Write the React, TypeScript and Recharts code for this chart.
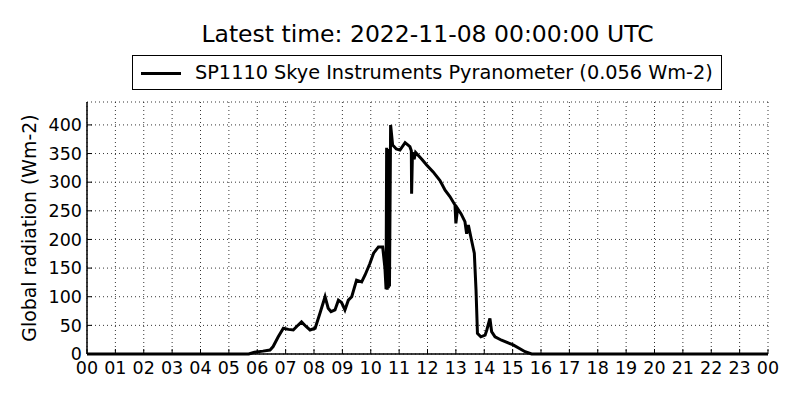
import React from 'react';
import { LineChart, Line, XAxis, YAxis, CartesianGrid } from 'recharts';

// hour of day (UTC) and global radiation in Wm-2
const hours = [
  0, 5.7, 5.9, 6.2, 6.45, 6.56, 6.74, 6.92, 7.1, 7.27, 7.39, 7.56, 7.72, 7.86, 8.04, 8.21, 8.39, 8.5, 8.6,
  8.74, 8.86, 8.97, 9.09, 9.21, 9.33, 9.5, 9.68, 9.8, 9.97, 10.1, 10.27, 10.42, 10.5, 10.54, 10.56, 10.58,
  10.6, 10.62, 10.64, 10.66, 10.7, 10.77, 10.9, 11.03, 11.21, 11.38, 11.43, 11.44, 11.47, 11.53, 11.58,
  11.8, 11.97, 12.2, 12.44, 12.62, 12.79, 12.97, 13.0, 13.06, 13.18, 13.32, 13.38, 13.44, 13.55, 13.65,
  13.71, 13.76, 13.88, 14.03, 14.09, 14.2, 14.26, 14.38, 14.61, 15.02, 15.44, 15.67, 24,
];
const radiation = [
  0, 0, 3, 5, 7, 13, 30, 45, 43, 42, 48, 56, 48, 42, 45, 71, 100, 80, 74,
  77, 94, 90, 77, 94, 100, 129, 126, 138, 158, 176, 187, 187, 150, 113, 360, 112,
  358, 115, 355, 118, 400, 365, 358, 356, 369, 362, 355, 280, 352, 340, 352,
  340, 330, 318, 303, 286, 275, 260, 228, 254, 245, 231, 210, 225, 199, 176,
  112, 36, 30, 33, 42, 62, 39, 30, 24, 16, 4, 0, 0,
];
const hourTicks = [0, 1, 2, 3, 4, 5, 6, 7, 8, 9, 10, 11, 12, 13, 14, 15, 16, 17, 18, 19, 20, 21, 22, 23, 24];
const radTicks = [0, 50, 100, 150, 200, 250, 300, 350, 400];

const title = 'Latest time: 2022-11-08 00:00:00 UTC';
const seriesName = 'SP1110 Skye Instruments Pyranometer (0.056 Wm-2)';

const data = hours.map((h, i) => ({ h, v: radiation[i] }));
const font = 'DejaVu Sans, sans-serif';
const TICK_LEN = 5;
const X_GAP = 8;
const Y_GAP = 5;
const TICK_FONT = 17.5;

// matplotlib-classic style: tick marks point into the plot
const BottomTick = (props: any) => {
  const { x, y, payload } = props;
  const axisY = y - X_GAP;
  return (
    <g>
      <line x1={x} x2={x} y1={axisY} y2={axisY - TICK_LEN} stroke="#000" strokeWidth={1} />
      <text x={x} y={y} dy="0.71em" textAnchor="middle" fill="#000" fontSize={TICK_FONT} fontFamily={font}>
        {String(payload.value % 24).padStart(2, '0')}
      </text>
    </g>
  );
};

const LeftTick = (props: any) => {
  const { x, y, payload } = props;
  const axisX = x + Y_GAP;
  return (
    <g>
      <line x1={axisX} x2={axisX + TICK_LEN} y1={y} y2={y} stroke="#000" strokeWidth={1} />
      <text x={x} y={y} dy="0.355em" textAnchor="end" fill="#000" fontSize={TICK_FONT} fontFamily={font}>
        {payload.value}
      </text>
    </g>
  );
};

const TopTick = (props: any) => {
  const { x, y } = props;
  return <line x1={x} x2={x} y1={y} y2={y + TICK_LEN} stroke="#000" strokeWidth={1} />;
};

const RightTick = (props: any) => {
  const { x, y } = props;
  return <line x1={x} x2={x - TICK_LEN} y1={y} y2={y} stroke="#000" strokeWidth={1} />;
};

const App: React.FC = () => {
  return (
    <div style={{ position: 'absolute', left: 0, top: 0, width: 800, height: 400, background: '#fff', fontFamily: font }}>
      <div style={{ position: 'absolute', left: 87, width: 681, top: 21, textAlign: 'center', fontSize: 23.5, lineHeight: '27px', color: '#000' }}>
        {title}
      </div>
      <div
        style={{
          position: 'absolute', left: 132, top: 55, width: 588, height: 33,
          border: '1px solid #000', boxSizing: 'content-box',
        }}
      >
        <div style={{ position: 'absolute', left: 8, top: 15.5, width: 40, height: 0, borderTop: '3px solid #000' }} />
        <div style={{ position: 'absolute', left: 62, top: 5, fontSize: 19.3, lineHeight: '23px', whiteSpace: 'nowrap', color: '#000' }}>
          {seriesName}
        </div>
      </div>
      <div
        style={{
          position: 'absolute', left: 29, top: 228, fontSize: 18.9, whiteSpace: 'nowrap',
          transform: 'translate(-50%, -50%) rotate(-90deg)', color: '#000',
        }}
      >
        Global radiation (Wm-2)
      </div>
      <LineChart
        width={800}
        height={400}
        data={data}
        margin={{ top: 102, right: 32, bottom: 0, left: 0 }}
        style={{ position: 'absolute', left: 0, top: 0 }}
      >
        <CartesianGrid stroke="#000" strokeDasharray="1 3" strokeWidth={0.8} vertical horizontal />
        <XAxis
          dataKey="h"
          type="number"
          domain={[0, 24]}
          ticks={hourTicks}
          interval={0}
          height={46}
          tick={<BottomTick />}
          axisLine={{ stroke: '#000', strokeWidth: 1.5 }}
          tickLine={false}
          tickSize={0}
          tickMargin={X_GAP}
        />
        <YAxis
          type="number"
          domain={[0, 440]}
          ticks={radTicks}
          interval={0}
          width={87}
          tick={<LeftTick />}
          axisLine={{ stroke: '#000', strokeWidth: 1.5 }}
          tickLine={false}
          tickSize={0}
          tickMargin={Y_GAP}
        />
        <XAxis xAxisId="top" orientation="top" dataKey="h" type="number" domain={[0, 24]} ticks={hourTicks}
          interval={0} height={0} tick={<TopTick />} tickSize={0} tickMargin={0}
          axisLine={{ stroke: '#000', strokeWidth: 1.5 }} tickLine={false} />
        <YAxis yAxisId="right" orientation="right" domain={[0, 440]} ticks={radTicks}
          interval={0} width={0} tick={<RightTick />} tickSize={0} tickMargin={0}
          axisLine={{ stroke: '#000', strokeWidth: 1.5 }} tickLine={false} />
        <Line
          type="linear"
          dataKey="v"
          stroke="#000"
          strokeWidth={3}
          dot={false}
          isAnimationActive={false}
        />
      </LineChart>
    </div>
  );
};

export default App;
